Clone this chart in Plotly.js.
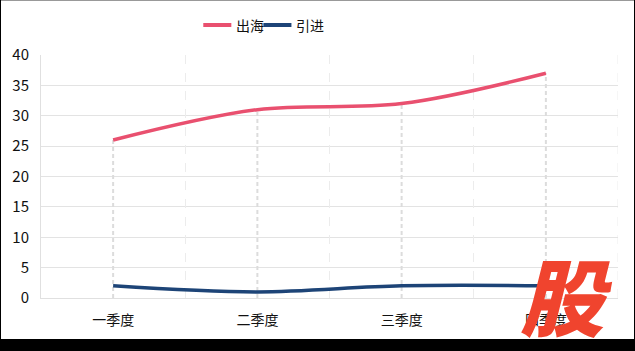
<!DOCTYPE html>
<html>
<head>
<meta charset="utf-8">
<script src="https://cdn.plot.ly/plotly-3.0.1.min.js"></script>
<style>
html,body{margin:0;padding:0;background:#000;width:635px;height:351px;overflow:hidden;}
#frame{position:absolute;left:1px;top:1px;width:633px;height:338px;background:#fff;}
#topline{position:absolute;left:1px;top:0;width:633px;height:1px;background:#999;}
#chart{width:633px;height:338px;}
</style>
</head>
<body>
<div id="topline"></div>
<div id="frame"><div id="chart"></div></div>
<script>
const categories = ['一季度', '二季度', '三季度', '四季度'];
const seriesNames = ['出海', '引进'];
const chuhai = [26, 31, 32, 37];
const yinjin = [2, 1, 2, 2];
const yTicks = [0, 5, 10, 15, 20, 25, 30, 35, 40];

const colors = ['#e9506f', '#1d4477'];
const font = '"Noto Sans CJK SC", "Noto Sans", sans-serif';

// plot geometry (page pixels) used to place the hand-built legend
const plotL = 41, plotW = 576, plotB = 298, plotH = 243;
const px = v => (v - plotL) / plotW;
const py = v => (plotB - v) / plotH;

// drop lines from each category's highest value down to the axis
const dropX = [], dropY = [];
categories.forEach((c, i) => {
  dropX.push(c, c, null);
  dropY.push(0, Math.max(chuhai[i], yinjin[i]), null);
});

// category boundaries for vertical grid
const boundaries = categories.map((c, i) => i + 0.5);

const traces = [
  {x: dropX, y: dropY, mode: 'lines', line: {color: '#dcdcdc', width: 2, dash: '4px,3px'},
   hoverinfo: 'skip', showlegend: false},
  {x: categories, y: chuhai, name: seriesNames[0], mode: 'lines', showlegend: false,
   line: {color: colors[0], width: 3.5, shape: 'spline', smoothing: 1}},
  {x: categories, y: yinjin, name: seriesNames[1], mode: 'lines', showlegend: false,
   line: {color: colors[1], width: 3.5, shape: 'spline', smoothing: 1}},
  {x: boundaries, y: [null, null, null, null], xaxis: 'x2', mode: 'lines', showlegend: false, hoverinfo: 'skip'}
];

// legend items (hand-built to match spacing)
const legendStart = [202, 262];
const legendY = 25;
const shapes = [{type: 'line', xref: 'x2', yref: 'paper', x0: boundaries[boundaries.length - 1],
            x1: boundaries[boundaries.length - 1], y0: 0, y1: 1, layer: 'below',
            line: {color: '#ececec', width: 1, dash: 'dash'}}];
const annotations = [];
seriesNames.forEach((n, i) => {
  shapes.push({type: 'line', xref: 'paper', yref: 'paper',
    x0: px(legendStart[i] + 1), x1: px(legendStart[i] + 29), y0: py(legendY), y1: py(legendY),
    line: {color: colors[i], width: 4}});
  annotations.push({text: n, xref: 'paper', yref: 'paper', x: px(legendStart[i] + 32), y: py(legendY),
    xanchor: 'left', yanchor: 'middle', showarrow: false,
    font: {family: font, size: 14, color: '#111'}});
});
annotations.push({
  text: '股', xref: 'paper', yref: 'paper', x: 0.91, y: 0.02,
  xanchor: 'center', yanchor: 'middle', showarrow: false,
  font: {family: font, size: 84, color: '#f0442e', weight: 900, style: 'italic'}
});

const layout = {
  width: 633, height: 338,
  margin: {l: 40, r: 16, t: 54, b: 41},
  paper_bgcolor: '#fff', plot_bgcolor: '#fff',
  font: {family: font, size: 14, color: '#222'},
  showlegend: false,
  xaxis: {type: 'category', range: [-0.5, 3.5], showgrid: false, zeroline: false,
          showline: true, linecolor: '#e0e0e0', linewidth: 1,
          ticks: 'outside', ticklen: 9, tickcolor: 'rgba(0,0,0,0)',
          tickfont: {family: font, size: 14, color: '#111'}, fixedrange: true},
  xaxis2: {overlaying: 'x', type: 'linear', range: [-0.5, 3.5], tickvals: boundaries,
           showticklabels: false, showgrid: true, gridcolor: '#ececec', griddash: 'dash',
           gridwidth: 1, zeroline: false, showline: false, ticks: '', side: 'bottom'},
  yaxis: {range: [0, 40], tickvals: yTicks, showgrid: true, gridcolor: '#e3e3e3', gridwidth: 1,
          zeroline: false, showline: true, linecolor: '#e0e0e0', linewidth: 1,
          ticks: 'outside', ticklen: 8, tickcolor: 'rgba(0,0,0,0)',
          tickfont: {family: font, size: 15, color: '#111'}, fixedrange: true},
  shapes: shapes,
  annotations: annotations
};

Plotly.newPlot('chart', traces, layout, {displayModeBar: false, staticPlot: true});
</script>
</body>
</html>
